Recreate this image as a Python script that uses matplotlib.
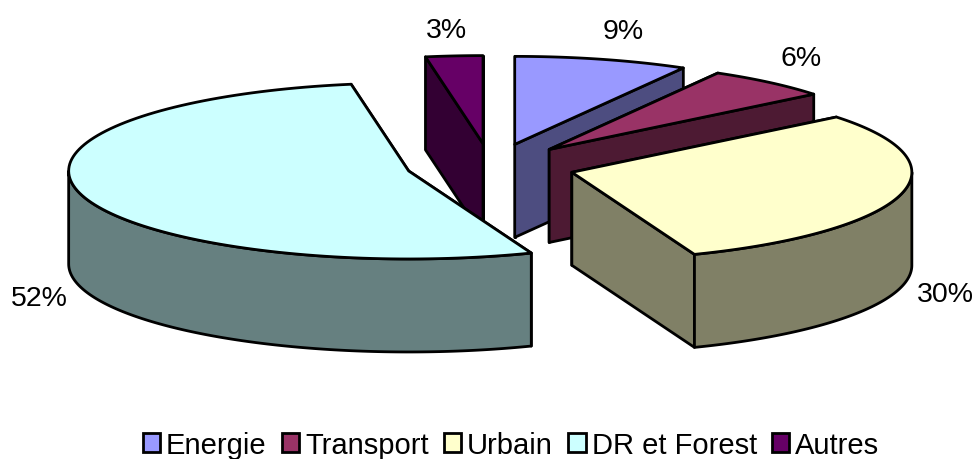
import numpy as np
import matplotlib
matplotlib.use('Agg')
import matplotlib.pyplot as plt
from matplotlib.patches import Polygon, Patch

plt.rcParams['font.family'] = ['Liberation Sans', 'DejaVu Sans']

categories = ['Energie', 'Transport', 'Urbain', 'DR et Forest', 'Autres']
values = [9, 6, 30, 52, 3]
colors = ['#9999FF', '#993366', '#FFFFCC', '#CCFFFF', '#660066']
pct_labels = ['9%', '6%', '30%', '52%', '3%']

# --- pie geometry, in pixels ---
cx, cy = 491, 166.5
rx, ry = 340, 88
depth = 93
explode = 0.25
lw = 2.0
# angles get squeezed at the back and stretched at the front (3d view)
back_squeeze, front_stretch = 0.90, 1.19

# back slices first so the front ones cover them
draw_order = [4, 3, 0, 1, 2]
label_xy = {0: (623, 32), 1: (801, 59), 2: (945, 295), 3: (39, 299), 4: (446, 31)}


def shade(hex_color):
    r, g, b = matplotlib.colors.to_rgb(hex_color)
    return (r * 0.5, g * 0.5, b * 0.5)


def view_angle(a):
    f = back_squeeze if np.cos(a) > 0 else front_stretch
    return np.arctan2(f * np.sin(a), np.cos(a)) % (2 * np.pi)


def rim_point(apex, a):
    return (apex[0] + rx * np.sin(a), apex[1] - ry * np.cos(a))


def down(pts):
    return [(x, y + depth) for x, y in pts]


fig = plt.figure(figsize=(9.74, 4.6), dpi=100)
ax = fig.add_axes([0, 0, 1, 1])
ax.set_xlim(0, 974)
ax.set_ylim(460, 0)
ax.axis('off')

fractions = np.array(values) / sum(values)
edges = np.concatenate([[0], np.cumsum(fractions)]) * 2 * np.pi

for i in draw_order:
    mid = (edges[i] + edges[i + 1]) / 2
    a0 = view_angle(edges[i])
    a1 = view_angle(edges[i + 1])
    if a1 < a0:
        a1 += 2 * np.pi
    apex = (cx + explode * rx * np.sin(mid), cy - explode * ry * np.cos(mid))
    dark = shade(colors[i])
    style = dict(edgecolor='black', linewidth=lw, joinstyle='round')

    # side walls along both radii
    for a in (a0, a1):
        edge = [apex, rim_point(apex, a)]
        ax.add_patch(Polygon(edge + down(edge)[::-1], facecolor=dark, **style))

    # curved outer wall, only the part that faces the viewer
    v0, v1 = max(a0, np.pi / 2), min(a1, 3 * np.pi / 2)
    if v1 > v0:
        arc = [rim_point(apex, a) for a in np.linspace(v0, v1, 120)]
        ax.add_patch(Polygon(arc + down(arc)[::-1], facecolor=dark, **style))

    # top face
    arc = [rim_point(apex, a) for a in np.linspace(a0, a1, 120)]
    ax.add_patch(Polygon([apex] + arc, facecolor=colors[i], **style))

for i, txt in enumerate(pct_labels):
    x, y = label_xy[i]
    ax.text(x, y, txt, fontsize=20.5, color='black', ha='center', va='center')

handles = [Patch(facecolor=c, edgecolor='black', linewidth=lw) for c in colors]
fig.legend(handles, categories, loc='center', bbox_to_anchor=(511 / 974, 1 - 446 / 460),
           ncol=5, frameon=False, fontsize=21, handlelength=0.6, handleheight=0.6,
           handletextpad=0.2, columnspacing=0.52, borderpad=0, borderaxespad=0)

fig.savefig('out.png', dpi=100)
